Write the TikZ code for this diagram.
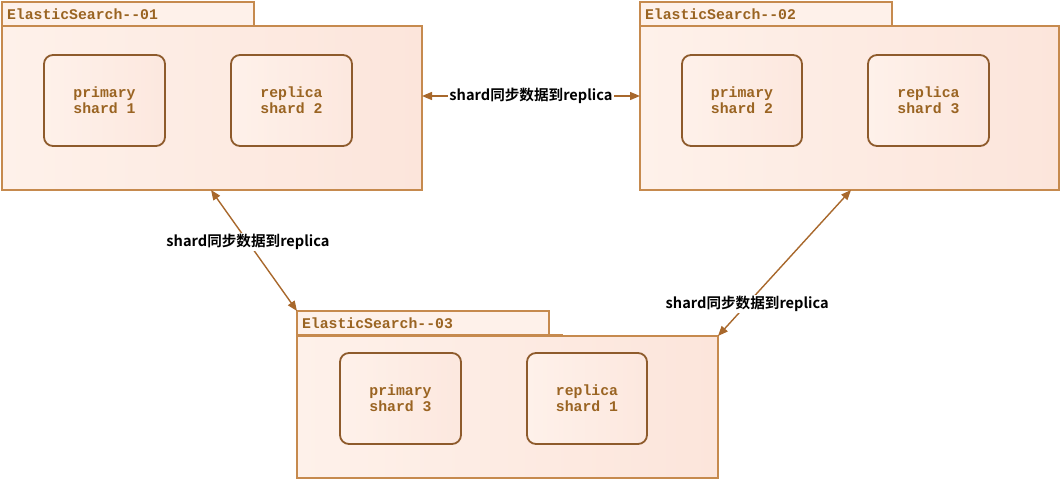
\documentclass[tikz,border=0pt]{standalone}
\usepackage{fontspec}
\setmonofont{Liberation Mono}
\newfontfamily\cjkb{Noto Sans CJK SC Bold}
\usetikzlibrary{arrows.meta}
\definecolor{bord}{HTML}{C68A4E}
\definecolor{inbord}{HTML}{8E5B2C}
\definecolor{txt}{HTML}{9A6422}
\definecolor{fillL}{HTML}{FEF1EA}
\definecolor{fillR}{HTML}{FCE5DB}
\definecolor{arr}{HTML}{A8682C}
\tikzset{
  server/.style={draw=bord, line width=1.4pt, left color=fillL, right color=fillR, minimum width=420pt, inner sep=0pt, outer sep=0pt, anchor=north west},
  tab/.style={draw=bord, line width=1.4pt, fill=fillL, minimum width=252pt, minimum height=24pt, inner sep=0pt, outer sep=0pt, anchor=north west, font=\ttfamily\bfseries\fontsize{14.8}{16}\selectfont, text=txt, align=left, text width=246pt},
  shardbox/.style={draw=inbord, line width=1.8pt, rounded corners=9pt, left color=fillL, right color=fillR!90!white, minimum width=121pt, minimum height=91pt, inner sep=0pt, outer sep=0pt, anchor=north west, font=\ttfamily\bfseries\fontsize{14.8}{16}\selectfont, text=txt, align=center},
  sync/.style={draw=arr, line width=1.4pt, {Triangle[length=10pt,width=8pt]}-{Triangle[length=10pt,width=8pt]}},
  lbl/.style={fill=white, inner sep=1pt, font=\cjkb\fontsize{14.6}{16}\selectfont, text=black}
}
\begin{document}
\begin{tikzpicture}[x=1pt,y=-1pt]
\useasboundingbox (0,0) rectangle (1061,480);
% server 01
\node[server, minimum height=164pt] (s1) at (2,26) {};
\node[tab] (t1) at (2,2) {\hspace*{2pt}ElasticSearch--01};
\draw[bord, line width=2.4pt] (t1.south west) -- +(266,0);
\node[shardbox] (p1) at (44,55) {primary\\shard 1};
\node[shardbox] (r2) at (231,55) {replica\\shard 2};
% server 02
\node[server, minimum height=164pt, minimum width=419pt] (s2) at (640,26) {};
\node[tab] (t2) at (640,2) {\hspace*{2pt}ElasticSearch--02};
\draw[bord, line width=2.4pt] (t2.south west) -- +(266,0);
\node[shardbox, minimum width=120pt] (p2) at (682,55) {primary\\shard 2};
\node[shardbox] (r3) at (868,55) {replica\\shard 3};
% server 03
\node[server, minimum height=142pt, minimum width=421pt] (s3) at (297,336) {};
\node[tab] (t3) at (297,311) {\hspace*{2pt}ElasticSearch--03};
\draw[bord, line width=2.4pt] (t3.south west) -- +(266,0);
\node[shardbox] (p3) at (340,353) {primary\\shard 3};
\node[shardbox, minimum width=120pt] (r1) at (527,353) {replica\\shard 1};
% connectors
\coordinate (a1) at (s1.east |- 0,96);
\coordinate (a2) at (s2.west |- 0,96);
\draw[sync] (a1) -- node[lbl] (l12) {shard同步数据到replica} (a2);
\coordinate (b1) at (s1.south west -| 211,0);
\draw[sync] (b1) -- node[lbl, pos=0.43] (l13) {shard同步数据到replica} (t3.north west);
\coordinate (c2) at (s2.south west -| 851,0);
\draw[sync] (c2) -- node[lbl, pos=0.78] (l23) {shard同步数据到replica} (s3.north east);
\end{tikzpicture}
\end{document}
